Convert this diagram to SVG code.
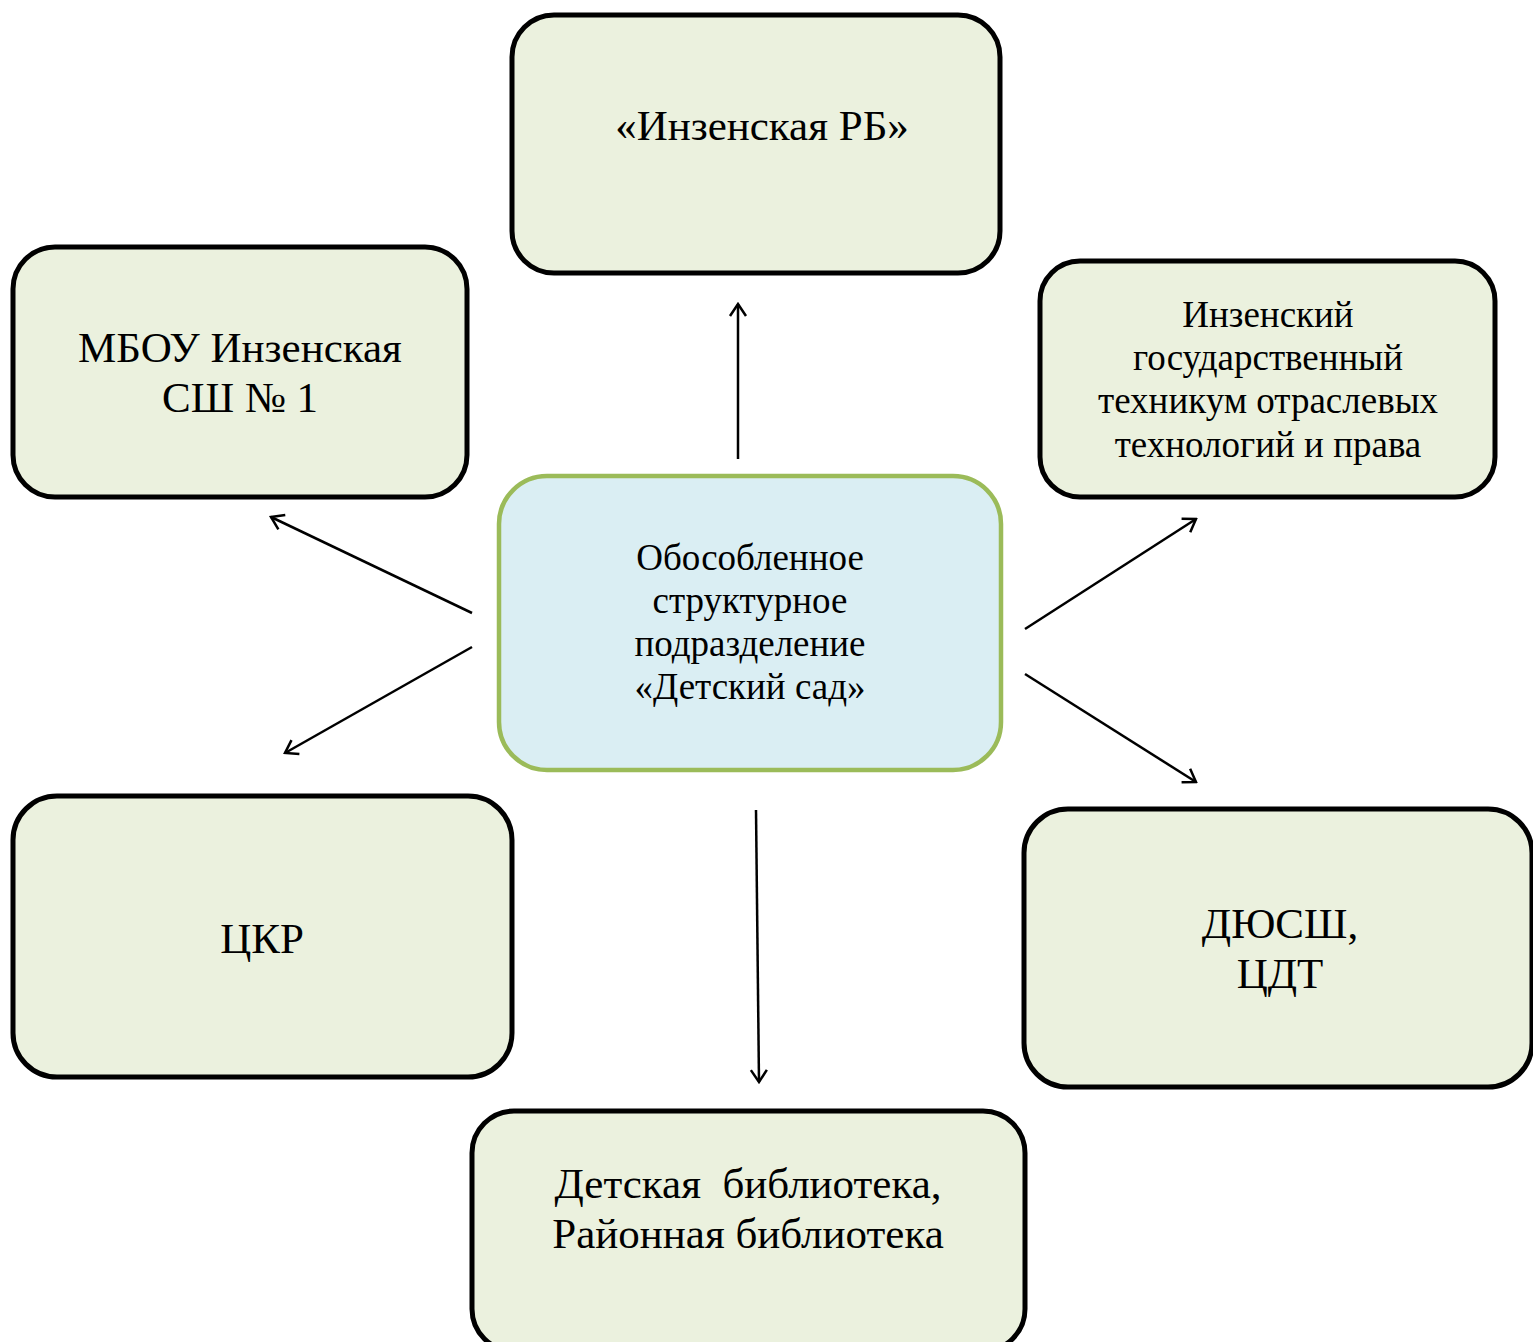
<svg xmlns="http://www.w3.org/2000/svg" width="1533" height="1342" viewBox="0 0 1533 1342">
<defs>
<style>
.box{fill:#EBF1DE;stroke:#000;stroke-width:5}
.ctr{fill:#DAEEF3;stroke:#9BBB59;stroke-width:4.5}
text{font-family:"Liberation Serif","Times New Roman",serif;fill:#000;text-anchor:middle;white-space:pre}
.big{font-size:43px}
.mid{font-size:37px}
.conn{stroke:#000;stroke-width:2.5;fill:none;marker-end:url(#arr)}
</style>
<marker id="arr" viewBox="0 0 20 20" refX="18" refY="10" markerWidth="20" markerHeight="20" markerUnits="userSpaceOnUse" orient="auto">
<path d="M6,2 L18,10 L6,18" fill="none" stroke="#000" stroke-width="2.5"/>
</marker>
</defs>
<rect width="1533" height="1342" fill="#fff"/>
<g id="connectors">
<line class="conn" x1="738" y1="459" x2="738" y2="304"/>
<line class="conn" x1="756" y1="810" x2="759" y2="1082"/>
<line class="conn" x1="472" y1="613" x2="271" y2="517"/>
<line class="conn" x1="472" y1="647" x2="285" y2="753"/>
<line class="conn" x1="1025" y1="629" x2="1196" y2="519"/>
<line class="conn" x1="1025" y1="674" x2="1196" y2="782"/>
</g>
<g id="node-rb">
<rect class="box" x="512" y="15" width="488" height="258" rx="42"/>
<text class="big" x="762" y="140">«Инзенская РБ»</text>
</g>
<g id="node-mbou">
<rect class="box" x="13" y="247" width="454" height="250" rx="42"/>
<text class="big" x="240" y="362">МБОУ Инзенская</text>
<text class="big" x="240" y="412">СШ № 1</text>
</g>
<g id="node-tech">
<rect class="box" x="1040" y="261" width="455" height="236" rx="40"/>
<text class="mid" x="1268" y="327">Инзенский</text>
<text class="mid" x="1268" y="370">государственный</text>
<text class="mid" x="1268" y="413">техникум отраслевых</text>
<text class="mid" x="1268" y="457">технологий и права</text>
</g>
<g id="node-center">
<rect class="ctr" x="499" y="476" width="502" height="294" rx="48"/>
<text class="mid" x="750" y="570">Обособленное</text>
<text class="mid" x="750" y="613">структурное</text>
<text class="mid" x="750" y="656">подразделение</text>
<text class="mid" x="750" y="699">«Детский сад»</text>
</g>
<g id="node-ckr">
<rect class="box" x="13" y="796" width="499" height="281" rx="44"/>
<text class="big" x="262" y="953">ЦКР</text>
</g>
<g id="node-dyussh">
<rect class="box" x="1024" y="809" width="508" height="278" rx="44"/>
<text class="big" x="1280" y="938">ДЮСШ,</text>
<text class="big" x="1280" y="988">ЦДТ</text>
</g>
<g id="node-lib">
<rect class="box" x="472" y="1111" width="553" height="240" rx="42"/>
<text class="big" x="748" y="1198">Детская  библиотека,</text>
<text class="big" x="748" y="1248">Районная библиотека</text>
</g>
</svg>
